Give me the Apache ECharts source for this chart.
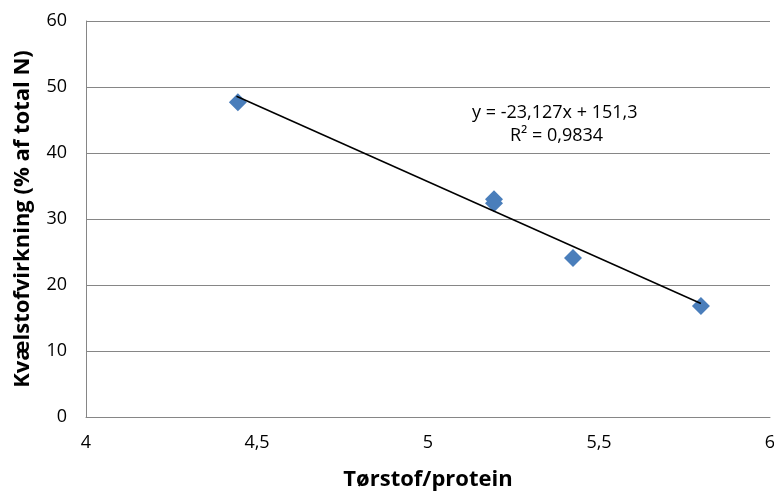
<!DOCTYPE html>
<html>
<head>
<meta charset="utf-8">
<script src="https://cdn.jsdelivr.net/npm/echarts@6/dist/echarts.min.js"></script>
<style>
html,body{margin:0;padding:0;background:#fff;}
#c{width:774px;height:494px;}
</style>
</head>
<body>
<div id="c"></div>
<script>
var xValues = [4.444, 5.193, 5.193, 5.424, 5.798];
var yValues = [47.7, 33.0, 32.4, 24.1, 16.8];
var trendX = [4.44, 5.798];
var trendY = [48.6, 17.2];
var equationText = 'y = -23,127x + 151,3';
var r2Text = 'R² = 0,9834';
var xTitle = 'Tørstof/protein';
var yTitle = 'Kvælstofvirkning (% af total N)';

var points = xValues.map(function(x, i){ return [x, yValues[i]]; });
var trend = trendX.map(function(x, i){ return [x, trendY[i]]; });
var font = '"Open Sans", "Liberation Sans", sans-serif';

var chart = echarts.init(document.getElementById('c'));
chart.setOption({
  animation: false,
  backgroundColor: '#fff',
  grid: {left: 86, right: 4, top: 21, bottom: 77, containLabel: false, outerBoundsMode: 'none'},
  xAxis: {
    type: 'value', min: 4, max: 6, interval: 0.5,
    name: xTitle, nameLocation: 'middle', nameGap: 52,
    nameTextStyle: {fontFamily: font, fontSize: 22, fontWeight: 'bold', color: '#000'},
    axisLine: {show: true, lineStyle: {color: '#868686', width: 1}},
    axisTick: {show: false},
    splitLine: {show: false},
    axisLabel: {fontFamily: font, fontSize: 18, color: '#000', margin: 17,
      formatter: function(v){ return String(v).replace('.', ','); }}
  },
  yAxis: {
    type: 'value', min: 0, max: 60, interval: 10,
    name: yTitle, nameLocation: 'middle', nameGap: 52,
    nameTextStyle: {fontFamily: font, fontSize: 22, fontWeight: 'bold', color: '#000'},
    axisLine: {show: true, lineStyle: {color: '#868686', width: 1}},
    axisTick: {show: false},
    splitLine: {show: true, lineStyle: {color: '#868686', width: 1}},
    axisLabel: {fontFamily: font, fontSize: 18, color: '#000', margin: 19}
  },
  series: [
    {
      type: 'line', data: trend, showSymbol: false, symbol: 'none',
      lineStyle: {color: '#000', width: 1.5}, z: 3, silent: true
    },
    {
      type: 'scatter', data: points, symbol: 'diamond', symbolSize: [18, 18],
      itemStyle: {color: '#4a7ebb', opacity: 1}, z: 2
    }
  ],
  graphic: [
    {type: 'text', left: 472, top: 104, style: {text: equationText, fontFamily: font, fontSize: 18, fill: '#000'}},
    {type: 'text', left: 510, top: 127, style: {text: r2Text, fontFamily: font, fontSize: 18, fill: '#000'}}
  ]
});
</script>
</body>
</html>
